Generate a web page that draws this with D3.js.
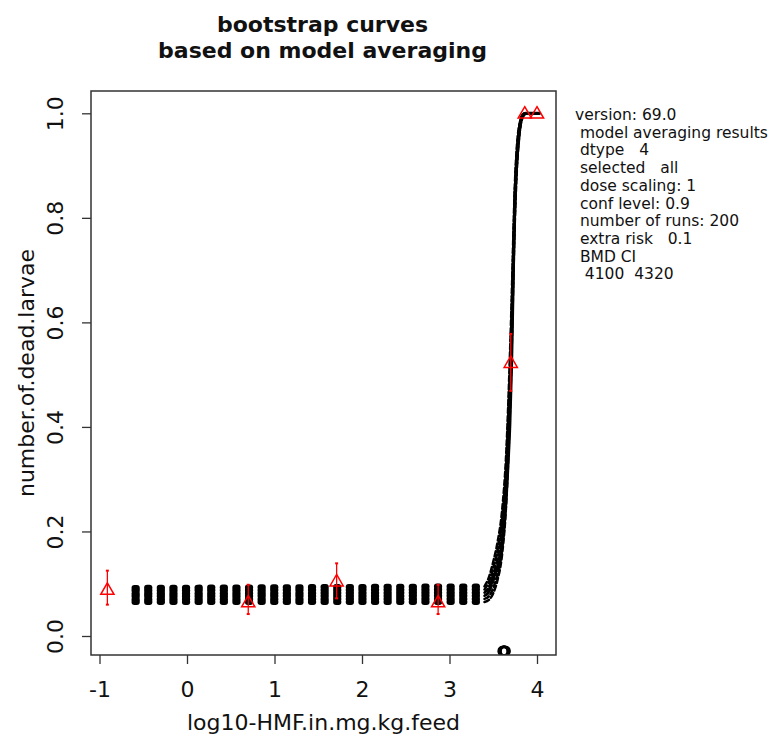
<!DOCTYPE html>
<html>
<head>
<meta charset="utf-8">
<script src="https://cdn.jsdelivr.net/npm/d3@7"></script>
<style>
  body { margin: 0; background: #fff; }
  svg { font-family: "DejaVu Sans", sans-serif; }
</style>
</head>
<body>
<svg id="chart" width="771" height="736"></svg>
<script>
(function (d3) {
  'use strict'
  // data [[[1
  const xTicks = [-1, 0, 1, 2, 3, 4]
  const yTicks = [0, 0.2, 0.4, 0.6, 0.8, 1.0]

  // observed proportions with CI
  const obsX = [-0.91, 0.70, 1.71, 2.87, 3.70, 3.86, 4.00]
  const obsY = [0.089, 0.065, 0.105, 0.065, 0.523, 1.0, 1.0]
  const obsLo = [0.060, 0.042, 0.072, 0.042, 0.469, 1.0, 1.0]
  const obsHi = [0.125, 0.098, 0.139, 0.098, 0.578, 1.0, 1.0]

  // bootstrap curves (a few)
  const bootX = [-0.6, 3.40, 3.45, 3.50, 3.55, 3.60, 3.65, 3.70, 3.75, 3.80, 3.85, 3.90, 4.03]
  const bootCurves = [
    [0.065, 0.065, 0.069, 0.082, 0.108, 0.155, 0.260, 0.480, 0.810, 0.962, 0.996, 1.0, 1.0],
    [0.070, 0.071, 0.076, 0.092, 0.120, 0.170, 0.280, 0.500, 0.825, 0.966, 0.997, 1.0, 1.0],
    [0.076, 0.077, 0.085, 0.105, 0.135, 0.185, 0.298, 0.515, 0.838, 0.970, 0.998, 1.0, 1.0],
    [0.081, 0.083, 0.094, 0.118, 0.150, 0.202, 0.315, 0.535, 0.850, 0.973, 0.998, 1.0, 1.0],
    [0.087, 0.089, 0.103, 0.130, 0.165, 0.220, 0.335, 0.560, 0.862, 0.976, 0.999, 1.0, 1.0],
    [0.092, 0.095, 0.112, 0.142, 0.180, 0.238, 0.355, 0.585, 0.875, 0.980, 0.999, 1.0, 1.0]
  ]
  const flatEnd = 3.40

  // model averaged curve
  const avgX = [3.40, 3.43, 3.50, 3.58, 3.63, 3.67, 3.69, 3.71, 3.73, 3.75, 3.79, 3.83, 3.87, 4.03]
  const avgY = [0.078, 0.080, 0.112, 0.148, 0.221, 0.332, 0.405, 0.522, 0.698, 0.845, 0.947, 0.995, 1.0, 1.0]

  // bootstrap BMD estimates (mg/kg feed)
  const bmdValues = [4100, 4150, 4200, 4260, 4320]
  const bmdY = -0.029

  const infoLines = [
    'version: 69.0',
    ' model averaging results',
    ' dtype   4',
    ' selected   all',
    ' dose scaling: 1',
    ' conf level: 0.9',
    ' number of runs: 200',
    ' extra risk   0.1',
    ' BMD CI',
    '  4100  4320'
  ]

  // layout [[[1
  const box = { left: 91, right: 556, top: 91, bottom: 655 }

  const x = d3.scaleLinear().domain([-1, 4]).range([99.5, 537])
  const y = d3.scaleLinear().domain([0, 1]).range([636, 113.3])

  const svg = d3.select('#chart')

  svg.append('rect').attr('width', 771).attr('height', 736).attr('fill', '#fff')

  svg.append('defs').append('clipPath').attr('id', 'plot-clip')
    .append('rect')
    .attr('x', box.left).attr('y', box.top)
    .attr('width', box.right - box.left).attr('height', box.bottom - box.top)

  // title
  const title = svg.append('g')
    .attr('font-size', 22).attr('font-weight', 'bold')
    .attr('text-anchor', 'middle').attr('fill', '#111')
  title.append('text').attr('x', 322.5).attr('y', 31.5).text('bootstrap curves')
  title.append('text').attr('x', 322.5).attr('y', 58).text('based on model averaging')

  // curves [[[1
  const plot = svg.append('g').attr('clip-path', 'url(#plot-clip)')

  const line = d3.line()
    .x(d => x(d[0]))
    .y(d => y(d[1]))
    .curve(d3.curveMonotoneX)

  const bootPts = bootCurves.map(ys => bootX.map((v, i) => [v, ys[i]]))

  // flat part: dashes of all curves pile up into blocks
  plot.selectAll('path.boot-flat')
    .data(bootPts)
    .enter()
    .append('path')
    .attr('class', 'boot-flat')
    .attr('d', pts => line(pts.filter(p => p[0] <= flatEnd)))
    .attr('fill', 'none')
    .attr('stroke', '#000')
    .attr('stroke-width', 6)
    .attr('stroke-linecap', 'round')
    .attr('stroke-dasharray', '2.3,10.3')

  // rising part
  plot.selectAll('path.boot-rise')
    .data(bootPts)
    .enter()
    .append('path')
    .attr('class', 'boot-rise')
    .attr('d', pts => line(pts.filter(p => p[0] >= flatEnd)))
    .attr('fill', 'none')
    .attr('stroke', '#000')
    .attr('stroke-width', 2.5)
    .attr('stroke-linecap', 'round')
    .attr('stroke-dasharray', '5,3')

  plot.append('path')
    .attr('d', line(avgX.map((v, i) => [v, avgY[i]])))
    .attr('fill', 'none')
    .attr('stroke', '#000')
    .attr('stroke-width', 3)

  // BMD markers
  plot.selectAll('circle.bmd')
    .data(bmdValues)
    .enter()
    .append('circle')
    .attr('class', 'bmd')
    .attr('cx', d => x(Math.log10(d)))
    .attr('cy', y(bmdY))
    .attr('r', 4.5)
    .attr('fill', 'none')
    .attr('stroke', '#000')
    .attr('stroke-width', 2.5)

  // observed points
  const obs = obsX.map((v, i) => ({ x: v, y: obsY[i], lo: obsLo[i], hi: obsHi[i] }))
  const pts = plot.selectAll('g.obs')
    .data(obs)
    .enter()
    .append('g')
    .attr('class', 'obs')
    .attr('stroke', '#ff0000')
    .attr('fill', 'none')

  pts.filter(d => d.hi > d.lo).each(function (d) {
    const g = d3.select(this)
    g.append('line')
      .attr('x1', x(d.x)).attr('x2', x(d.x))
      .attr('y1', y(d.lo)).attr('y2', y(d.hi))
      .attr('stroke-width', 1.3)
    ;[d.lo, d.hi].forEach(v => {
      g.append('line')
        .attr('x1', x(d.x) - 1.5).attr('x2', x(d.x) + 1.5)
        .attr('y1', y(v)).attr('y2', y(v))
        .attr('stroke-width', 2)
    })
  })

  pts.append('path')
    .attr('transform', d => 'translate(' + x(d.x) + ',' + (y(d.y) + 1) + ')')
    .attr('d', d3.symbol(d3.symbolTriangle2, 125))
    .attr('stroke-width', 1.5)

  // axes [[[1
  const xAxis = svg.append('g')
    .attr('transform', 'translate(0,' + box.bottom + ')')
    .call(d3.axisBottom(x).tickValues(xTicks).tickSize(9).tickPadding(17).tickFormat(d3.format('d')))
  xAxis.select('.domain').remove()
  xAxis.selectAll('line').attr('stroke', '#333').attr('stroke-width', 1.3)
  xAxis.selectAll('text')
    .attr('font-size', 22).attr('font-family', 'DejaVu Sans').attr('fill', '#111')
    .text(d => d < 0 ? '-' + Math.abs(d) : d)

  const yAxis = svg.append('g')
    .attr('transform', 'translate(' + box.left + ',0)')
    .call(d3.axisLeft(y).tickValues(yTicks).tickSize(9).tickFormat(d3.format('.1f')))
  yAxis.select('.domain').remove()
  yAxis.selectAll('line').attr('stroke', '#333').attr('stroke-width', 1.3)
  yAxis.selectAll('text')
    .attr('font-size', 22).attr('font-family', 'DejaVu Sans').attr('fill', '#111')
    .attr('transform', 'rotate(-90)')
    .attr('text-anchor', 'middle')
    .attr('x', 0).attr('y', -28).attr('dy', 0)

  // plot frame
  svg.append('rect')
    .attr('x', box.left).attr('y', box.top)
    .attr('width', box.right - box.left).attr('height', box.bottom - box.top)
    .attr('fill', 'none')
    .attr('stroke', '#333')
    .attr('stroke-width', 1.5)

  // axis titles
  svg.append('text')
    .attr('x', (box.left + box.right) / 2).attr('y', 730)
    .attr('text-anchor', 'middle').attr('font-size', 22).attr('fill', '#111')
    .text('log10-HMF.in.mg.kg.feed')

  svg.append('text')
    .attr('transform', 'translate(34,' + (box.top + box.bottom) / 2 + ') rotate(-90)')
    .attr('text-anchor', 'middle').attr('font-size', 22).attr('fill', '#111')
    .text('number.of.dead.larvae')

  // info text [[[1
  svg.append('g')
    .attr('font-size', 15.5).attr('fill', '#111')
    .selectAll('text')
    .data(infoLines)
    .enter()
    .append('text')
    .attr('x', 575)
    .attr('y', (d, i) => 120 + i * 17.7)
    .attr('xml:space', 'preserve')
    .style('white-space', 'pre')
    .text(d => d)

}(d3))
</script>
</body>
</html>
